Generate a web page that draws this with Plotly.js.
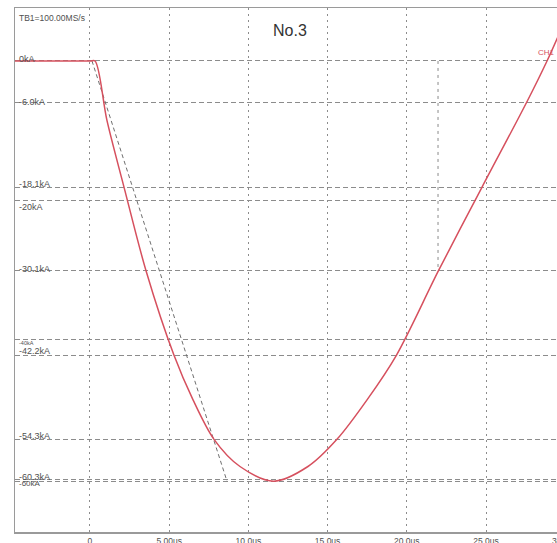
<!DOCTYPE html>
<html>
<head>
<meta charset="utf-8">
<script src="https://cdn.plot.ly/plotly-3.0.1.min.js"></script>
<style>html,body{margin:0;padding:0;background:#fff;}#chart{width:557px;height:543px;}</style>
</head>
<body>
<div id="chart"></div>
<script>
// Current waveform (CH1), time in microseconds, current in kA
const timeUs = [-4.73, 0.0, 0.32, 1.07, 2.15, 3.54, 5.30, 6.50, 7.83, 9.47, 11.6, 13.76, 15.59, 17.5, 19.35, 22.0, 24.75, 27.55, 28.85, 29.6];
const currentKA = [0, 0, 0, -8.5, -18.1, -30.1, -42.2, -48.6, -54.3, -58.2, -60.3, -58.2, -54.3, -48.6, -42.2, -30.1, -18.1, -6.0, 0, 3.8];

// Front-time construction line
const frontLineT = [0.13, 8.65];
const frontLineI = [0, -60.3];

// Cursor line
const cursorT = [21.97, 21.97];
const cursorI = [0, -30.1];

// Horizontal level lines and their labels
const levelVals = [0, -6.0, -18.1, -20, -30.1, -40, -42.2, -54.3, -60.3, -60];
const levelLabels = ['0kA', '-6.0kA', '-18.1kA', '-20kA', '-30.1kA', '-40kA', '-42.2kA', '-54.3kA', '-60.3kA', '-60kA'];
const levelShift = [2, 1, 3, -7, 2, -3, 4, 3, 4, -4];
const levelSize = [9, 9, 9, 9, 9, 5.5, 9, 9, 9, 8];

// Time axis ticks
const xTickVals = [0, 5, 10, 15, 20, 25, 30];
const xTickText = ['0', '5.00us', '10.0us', '15.0us', '20.0us', '25.0us', '30.0us'];

const xRange = [-4.73, 29.48];
const yRange = [-67.6, 7.6];

const FONT = 'Liberation Sans, Arial, sans-serif';

const traces = [
  {x: frontLineT, y: frontLineI, mode: 'lines', line: {color: '#6f6f6f', width: 1, dash: '4px,3px'}, hoverinfo: 'skip'},
  {x: cursorT, y: cursorI, mode: 'lines', line: {color: '#8a8a8a', width: 1, dash: '3px,4px'}, hoverinfo: 'skip'},
  {x: timeUs, y: currentKA, mode: 'lines', line: {color: '#d6505e', width: 1.5, shape: 'spline', smoothing: 0.9}}
];

const annotations = levelVals.map((v, k) => ({
  xref: 'paper', yref: 'y', x: 0.003, y: v, xanchor: 'left', yanchor: 'middle',
  yshift: levelShift[k], text: levelLabels[k], showarrow: false,
  font: {family: FONT, size: levelSize[k], color: '#505050'}
}));
annotations.push({xref: 'paper', yref: 'paper', x: 0.004, y: 0.98, xanchor: 'left', yanchor: 'middle', text: 'TB1=100.00MS/s', showarrow: false, font: {family: FONT, size: 8.5, color: '#505050'}});
annotations.push({xref: 'paper', yref: 'paper', x: (290 - 15) / 542, y: 1 - (30 - 8) / 524, xanchor: 'center', yanchor: 'middle', text: 'No.3', showarrow: false, font: {family: FONT, size: 16, color: '#333'}});
annotations.push({xref: 'paper', yref: 'y', x: 1, y: 0, xanchor: 'right', yanchor: 'bottom', yshift: 2, text: 'CH1', showarrow: false, font: {family: FONT, size: 8, color: '#d6505e'}});
// last tick label, partly beyond the right edge
annotations.push({xref: 'paper', yref: 'paper', x: (xTickVals[6] - xRange[0]) / (xRange[1] - xRange[0]), y: 0, xanchor: 'center', yanchor: 'top', yshift: -2, text: xTickText[6], showarrow: false, font: {family: FONT, size: 8.5, color: '#505050'}});

const layout = {
  width: 557, height: 543,
  margin: {l: 15, r: 0, t: 8, b: 11, pad: 0},
  paper_bgcolor: '#ffffff', plot_bgcolor: '#ffffff',
  showlegend: false,
  xaxis: {
    range: xRange, tickmode: 'array', tickvals: xTickVals, ticktext: xTickText,
    showgrid: true, gridcolor: '#8c8c8c', gridwidth: 1, griddash: '2px,4px',
    zeroline: false, showline: true, linecolor: '#9a9a9a', linewidth: 1.5, mirror: true,
    ticks: '', ticklen: 0,
    tickfont: {family: FONT, size: 8.5, color: '#505050'}
  },
  yaxis: {
    range: yRange, tickmode: 'array', tickvals: levelVals, showticklabels: false,
    showgrid: true, gridcolor: '#8c8c8c', gridwidth: 1, griddash: '5px,3px',
    zeroline: false, showline: true, linecolor: '#9a9a9a', linewidth: 1.5, mirror: false,
    ticks: ''
  },
  annotations: annotations
};

Plotly.newPlot('chart', traces, layout, {staticPlot: true, displayModeBar: false});
</script>
</body>
</html>
